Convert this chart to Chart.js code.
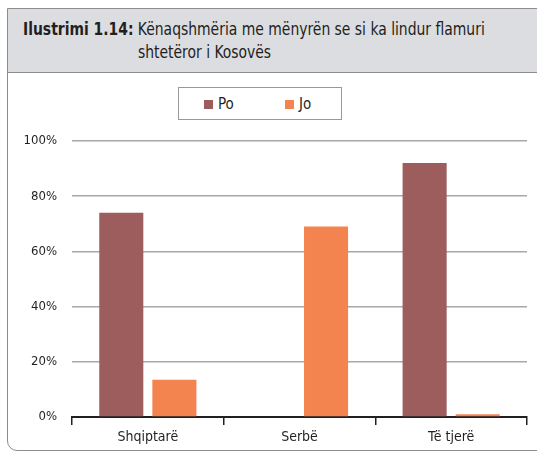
<!DOCTYPE html>
<html>
<head>
<meta charset="utf-8">
<script src="https://cdn.jsdelivr.net/npm/chart.js@4/dist/chart.umd.min.js"></script>
<style>
  html, body { margin:0; padding:0; background:#fff; }
  body { width:537px; height:452px; position:relative; overflow:hidden;
         font-family:'Liberation Sans Narrow','DejaVu Sans Condensed','Roboto',sans-serif; color:#231f20; }
  .frame { position:absolute; left:7px; top:8px; width:560px; height:443px;
           border:1.5px solid #8c8c8c; border-bottom-left-radius:10px; box-sizing:border-box; }
  .head { position:absolute; left:0; top:0; right:0; height:63px; background:#dcdde0;
          border-bottom:1.5px solid #8c8c8c; }
  .t1, .t2 { position:absolute; font-size:17px; white-space:nowrap; transform:scaleX(0.91); transform-origin:left top; }
  .t1 { left:15px; top:10px; }
  .t1 b { font-weight:bold; }
  .t2 { left:130px; top:33px; }
  .legend { position:absolute; left:178px; top:87px; width:164px; height:33px;
            border:1px solid #999; box-sizing:border-box; font-size:15px; }
  .legend span { position:absolute; top:7px; }
  .legend i { display:inline-block; width:9px; height:9px; margin-right:5px; }
  canvas { position:absolute; left:0; top:0; }
</style>
</head>
<body>
<div class="frame">
  <div class="head">
    <div class="t1"><b>Ilustrimi 1.14:</b> Kënaqshmëria me mënyrën se si ka lindur flamuri</div>
    <div class="t2">shtetëror i Kosovës</div>
  </div>
</div>
<div class="legend" id="legend"></div>
<canvas id="chart" width="537" height="452"></canvas>
<script>
const $ = id => document.getElementById(id);
const categories = ['Shqiptarë', 'Serbë', 'Të tjerë'];
const seriesNames = ['Po', 'Jo'];
const poValues = [74, 0, 92];
const joValues = [13.5, 69, 1];
const yTicks = [0, 20, 40, 60, 80, 100];
const colors = ['#9c5d5c', '#f4844f'];
const font = "'Liberation Sans Narrow','DejaVu Sans Condensed','Roboto',sans-serif";

// html legend with a framed box, like the original
const legendX = [25, 106];
seriesNames.forEach((name, i) => {
  const s = document.createElement('span');
  s.style.left = legendX[i] + 'px';
  s.innerHTML = `<i style="background:${colors[i]}"></i>${name}`;
  $('legend').appendChild(s);
});

new Chart($('chart'), {
  type: 'bar',
  data: {
    labels: categories,
    datasets: [
      { label: seriesNames[0], data: poValues, backgroundColor: colors[0] },
      { label: seriesNames[1], data: joValues, backgroundColor: colors[1] }
    ]
  },
  options: {
    responsive: false,
    animation: false,
    datasets: { bar: { categoryPercentage: 0.7, barPercentage: 0.83 } },
    layout: { padding: { top: 141, right: 10, bottom: 0, left: 0 } },
    plugins: { legend: { display: false }, tooltip: { enabled: false } },
    scales: {
      x: {
        afterFit: s => { s.height = 35; },
        border: { color: '#231f20', width: 2 },
        grid: { drawOnChartArea: false, drawTicks: true, tickLength: 8, color: '#231f20', lineWidth: 1.5, offset: true },
        ticks: { color: '#231f20', padding: 4, font: { family: font, size: 14 } }
      },
      y: {
        min: 0, max: 100,
        afterFit: s => { s.width = 72; },
        afterBuildTicks: s => { s.ticks = yTicks.map(v => ({ value: v })); },
        border: { display: false },
        grid: { color: '#a8a8a8', lineWidth: 1.5, drawTicks: false },
        ticks: { color: '#231f20', padding: 15, font: { family: font, size: 13 }, callback: v => v + '%' }
      }
    }
  }
});
</script>
</body>
</html>
